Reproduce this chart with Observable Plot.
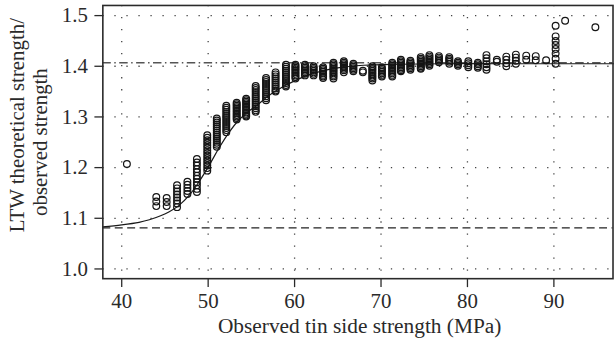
<!DOCTYPE html>
<html>
<head>
<meta charset="utf-8">
<script src="https://cdn.jsdelivr.net/npm/d3@7"></script>
<script src="https://cdn.jsdelivr.net/npm/@observablehq/plot@0.6"></script>
<style>
html, body { margin: 0; padding: 0; overflow: hidden; background: #fff; }
</style>
</head>
<body>
<div id="chart"></div>
<script>
// Column positions (observed tin side strength, MPa)
const colX = [40.6, 44.0, 45.2, 46.4, 47.6, 48.7, 49.9, 51.0, 52.1, 53.3, 54.4, 55.5, 56.7, 57.8, 59.0, 60.1,
  61.2, 62.2, 63.3, 64.5, 65.7, 66.8, 67.9, 69.0, 70.1, 71.3, 72.3, 73.4, 74.6, 75.6, 76.7, 77.9, 78.9,
  80.1, 81.2, 82.2, 83.4, 84.5, 85.6, 86.8, 87.9, 89.1, 90.2, 91.3, 94.8];
// Ratio values observed in each column
const colY = [
  [1.207],
  [1.142, 1.133, 1.124],
  [1.140, 1.132, 1.124],
  [1.165, 1.159, 1.153, 1.147, 1.141, 1.135, 1.129, 1.122],
  [1.172, 1.166, 1.160, 1.154, 1.148],
  [1.217, 1.210, 1.204, 1.197, 1.191, 1.184, 1.178, 1.171, 1.165, 1.158, 1.152],
  [1.264, 1.259, 1.254, 1.249, 1.244, 1.239, 1.234, 1.229, 1.224, 1.219, 1.214, 1.209, 1.204, 1.199, 1.194],
  [1.297, 1.293, 1.289, 1.285, 1.281, 1.277, 1.273, 1.269, 1.265, 1.261, 1.257, 1.253, 1.249, 1.245, 1.241],
  [1.322, 1.318, 1.314, 1.310, 1.306, 1.302, 1.298, 1.294, 1.290, 1.286, 1.282, 1.278, 1.274, 1.270],
  [1.328, 1.325, 1.322, 1.319, 1.316, 1.313, 1.310, 1.307, 1.304, 1.301, 1.298, 1.295],
  [1.336, 1.333, 1.330, 1.327, 1.324, 1.321, 1.318, 1.315, 1.312, 1.309, 1.306, 1.303, 1.301],
  [1.361, 1.357, 1.353, 1.349, 1.345, 1.341, 1.337, 1.333, 1.329, 1.325, 1.321, 1.317, 1.313, 1.310],
  [1.377, 1.373, 1.369, 1.365, 1.361, 1.357, 1.353, 1.349, 1.345, 1.341, 1.337, 1.333],
  [1.388, 1.384, 1.380, 1.376, 1.372, 1.368, 1.364, 1.360, 1.356, 1.352, 1.350],
  [1.403, 1.399, 1.395, 1.391, 1.387, 1.383, 1.379, 1.375, 1.371, 1.367, 1.363, 1.360],
  [1.403, 1.400, 1.397, 1.394, 1.391, 1.388, 1.385, 1.382, 1.379, 1.376],
  [1.403, 1.400, 1.397, 1.394, 1.391, 1.388, 1.385, 1.382],
  [1.400, 1.397, 1.394, 1.391, 1.388, 1.385, 1.382],
  [1.398, 1.395, 1.392, 1.389, 1.386, 1.383, 1.380, 1.377],
  [1.407, 1.404, 1.401, 1.398, 1.395, 1.392, 1.389, 1.386, 1.383, 1.380, 1.376],
  [1.410, 1.407, 1.404, 1.401, 1.398, 1.395, 1.392, 1.388],
  [1.405, 1.402, 1.399, 1.396, 1.393, 1.390],
  [1.391, 1.388],
  [1.400, 1.397, 1.394, 1.391, 1.388, 1.385, 1.382, 1.379, 1.376, 1.372],
  [1.398, 1.395, 1.392, 1.389, 1.386, 1.383, 1.380],
  [1.407, 1.404, 1.401, 1.398, 1.395, 1.392, 1.389, 1.386, 1.383, 1.380],
  [1.413, 1.410, 1.407, 1.404, 1.401, 1.398, 1.395, 1.392, 1.390],
  [1.411, 1.408, 1.405, 1.402, 1.399, 1.396, 1.393],
  [1.418, 1.415, 1.412, 1.409, 1.406, 1.403, 1.400, 1.397, 1.395],
  [1.422, 1.419, 1.416, 1.413, 1.410, 1.407, 1.404, 1.401],
  [1.420, 1.417, 1.414, 1.411, 1.408],
  [1.418, 1.415, 1.412, 1.409, 1.405],
  [1.410, 1.407, 1.404, 1.401],
  [1.410, 1.406, 1.402, 1.398],
  [1.407, 1.404, 1.400, 1.397],
  [1.422, 1.416, 1.410, 1.404, 1.398, 1.393],
  [1.413, 1.409],
  [1.419, 1.413, 1.406, 1.400],
  [1.423, 1.417, 1.411, 1.405],
  [1.421, 1.413],
  [1.420, 1.412],
  [1.412],
  [1.480, 1.459, 1.450, 1.442, 1.434, 1.425, 1.415, 1.405],
  [1.490],
  [1.477]
];
// Fitted curve
const curveX = [37.8, 40, 42, 43.2, 44.5, 45.5, 46.6, 47.8, 48.9, 50.1, 51.2, 52.4, 53.5, 54.6, 55.8, 57, 58, 59, 60, 61.5, 63, 65, 68, 72, 78, 85, 96.9];
const curveY = [1.083, 1.087, 1.092, 1.097, 1.105, 1.113, 1.125, 1.145, 1.171, 1.204, 1.237, 1.269, 1.293, 1.310, 1.325, 1.342, 1.353, 1.363, 1.371, 1.382, 1.390, 1.397, 1.402, 1.404, 1.405, 1.405, 1.405];
// Reference lines
const lowerRef = [1.081];
const upperRef = [1.407];
// Ticks
const xTicks = [40, 50, 60, 70, 80, 90];
const yTicks = [1.0, 1.1, 1.2, 1.3, 1.4, 1.5];

const points = colX.flatMap((x, i) => colY[i].map(y => ({x, y})));
const curve = curveX.map((x, i) => ({x, y: curveY[i]}));

const ink = "#2a2a2a";
const font = "'Liberation Serif', 'Times New Roman', serif";

const plot = Plot.plot({
  width: 620,
  height: 349,
  marginLeft: 103,
  marginRight: 3.5,
  marginTop: 5,
  marginBottom: 69,
  style: {fontFamily: font, fontSize: "21px", color: ink, background: "#fff"},
  x: {domain: [37.816, 96.84]},
  y: {domain: [0.9808, 1.52]},
  marks: [
    Plot.gridX(xTicks, {stroke: "#444", strokeOpacity: 1, strokeWidth: 1.3, strokeDasharray: "1.3,10.8"}),
    Plot.gridY(yTicks, {stroke: "#444", strokeOpacity: 1, strokeWidth: 1.3, strokeDasharray: "1.3,10.8"}),
    Plot.ruleY(lowerRef, {stroke: "#222", strokeWidth: 1.4, strokeDasharray: "8,4.5"}),
    Plot.ruleY(upperRef, {stroke: "#555", strokeWidth: 1.4, strokeDasharray: "8.5,3.5,1.5,3.5"}),
    Plot.line(curve, {x: "x", y: "y", curve: "catmull-rom", stroke: "#1a1a1a", strokeWidth: 1.2}),
    Plot.dot(points, {x: "x", y: "y", r: 3.4, stroke: "#151515", strokeWidth: 1.2, fill: "none"}),
    Plot.axisX(xTicks, {tickSize: 9, tickPadding: 6, stroke: ink, strokeWidth: 1.3, label: null}),
    Plot.axisY(yTicks, {tickSize: 8, tickPadding: 7, stroke: ink, strokeWidth: 1.3, tickFormat: d3.format(".1f"), label: null}),
    Plot.frame({stroke: ink, strokeWidth: 1.6})
  ]
});

const svg = d3.select(plot);
svg.append("text")
  .attr("transform", "translate(362,335)")
  .attr("text-anchor", "middle")
  .attr("font-family", font).attr("font-size", 21.5).attr("fill", ink)
  .text("Observed tin side strength (MPa)");
svg.append("text")
  .attr("transform", "translate(24,126) rotate(-90)")
  .attr("text-anchor", "middle")
  .attr("font-family", font).attr("font-size", 21).attr("fill", ink)
  .text("LTW theoretical strength/");
svg.append("text")
  .attr("transform", "translate(47,143) rotate(-90)")
  .attr("text-anchor", "middle")
  .attr("font-family", font).attr("font-size", 21).attr("fill", ink)
  .text("observed strength");

document.getElementById("chart").appendChild(plot);
</script>
</body>
</html>
